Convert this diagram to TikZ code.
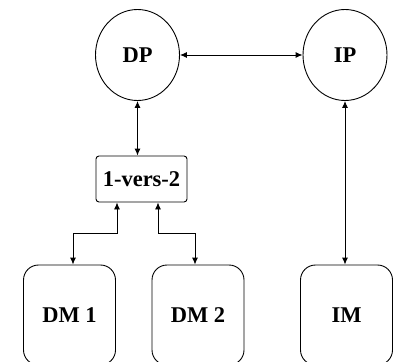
\documentclass[tikz,border=0pt]{standalone}
\usepackage{fontspec}
\setmainfont{Liberation Serif}
\usetikzlibrary{shapes.geometric, arrows.meta}
\tikzset{
	proc/.style = {draw, ellipse, minimum width = 84pt, minimum height = 91pt, inner sep = 0pt},
	mem/.style = {draw, rounded corners = 15pt, minimum width = 92pt, minimum height = 100pt},
	link/.style = {draw, rounded corners = 3pt, minimum width = 91pt, minimum height = 46pt},
	conn/.style = {{Latex[length=7pt,width=6pt]}-{Latex[length=7pt,width=6pt]}},
}

\begin{document}
\begin{tikzpicture}[x=1pt, y=-1pt, line width=0.9pt, font=\fontsize{22.5}{26}\selectfont\bfseries]
	\clip (0,0) rectangle (398,361);
	
	\node [proc] (DP) at (137.5,55) {DP};
	\node [proc] (IP) at (345,55) {IP};
	
	\node [link] (vers) at (141.5,179) {1-vers-2};
	
	\node [mem] (DM1) at (69.5,315) {DM 1};
	\node [mem] (DM2) at (198,315) {DM 2};
	\node [mem] (IM) at (346.5,315) {IM};
	
	\draw [conn] (DP.east) -- (IP.west);
	\draw [conn] (DP.south) -- (DP.south |- vers.north);
	\draw [conn] (IP.south) -- (IP.south |- IM.north);
	
	\draw [conn] ([xshift=-24.5pt]vers.south) -- ++(0,31) -| ([xshift=3.5pt]DM1.north);
	\draw [conn] ([xshift=16.5pt]vers.south) -- ++(0,31) -| ([xshift=-3pt]DM2.north);
\end{tikzpicture}
\end{document}
